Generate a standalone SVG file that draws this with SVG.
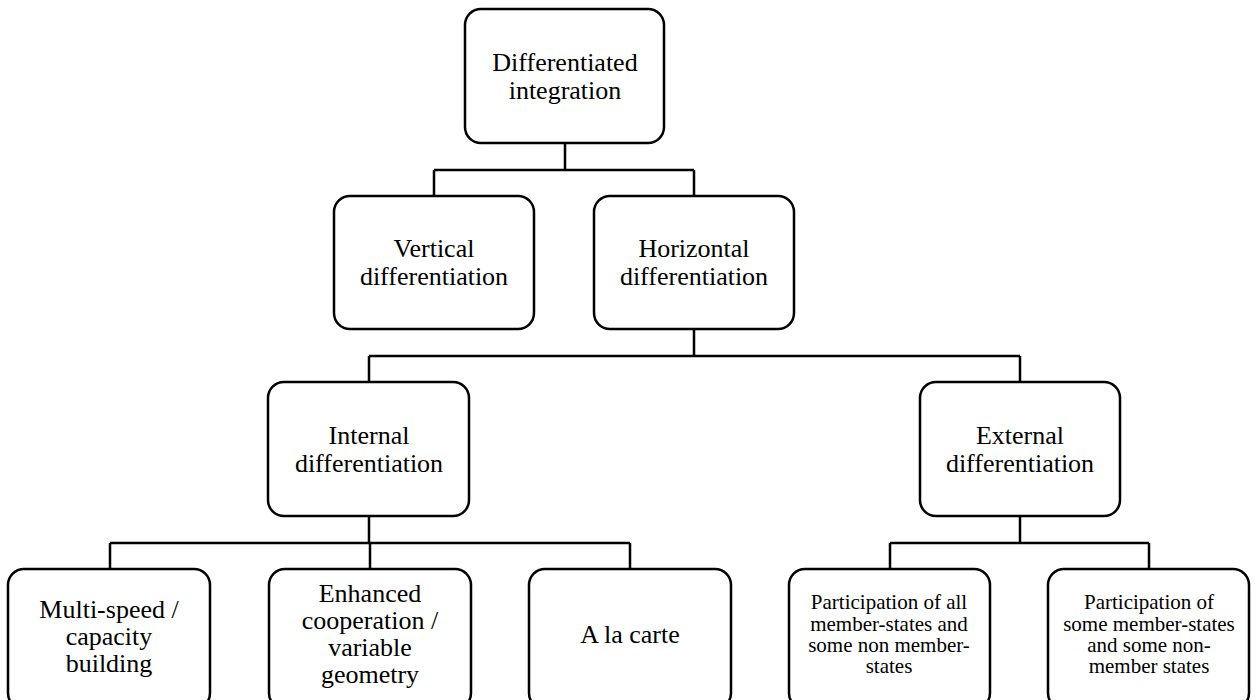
<svg xmlns="http://www.w3.org/2000/svg" width="1256" height="700" viewBox="0 0 1256 700">
<style>
.box{fill:#fff;stroke:#000;stroke-width:2.5}
.t{font-family:'Liberation Serif',Tinos,'Times New Roman',Times,'DejaVu Serif',serif;font-size:26px;fill:#000;text-anchor:middle}
.s{font-family:'Liberation Serif',Tinos,'Times New Roman',Times,'DejaVu Serif',serif;font-size:21px;fill:#000;text-anchor:middle}
.c{fill:none;stroke:#000;stroke-width:2.5}
</style>
<rect width="1256" height="700" fill="#fff"/>
<g id="connectors">
<path class="c" d="M565 143V170M434 170H694M434 170V196M694 170V196"/>
<path class="c" d="M694 329V356M369 356H1020M369 356V382M1020 356V382"/>
<path class="c" d="M369 516V543M110 543H630M110 543V569M370 543V569M630 543V569"/>
<path class="c" d="M1020 516V543M890 543H1149M890 543V569M1149 543V569"/>
</g>
<g id="n-root"><rect class="box" x="465" y="9" width="199" height="134" rx="16"/>
<text class="t" x="565" y="71">Differentiated</text><text class="t" x="565" y="99">integration</text></g>
<g id="n-vertical"><rect class="box" x="334" y="196" width="200" height="133" rx="16"/>
<text class="t" x="434" y="257">Vertical</text><text class="t" x="434" y="285">differentiation</text></g>
<g id="n-horizontal"><rect class="box" x="594" y="196" width="200" height="133" rx="16"/>
<text class="t" x="694" y="257">Horizontal</text><text class="t" x="694" y="285">differentiation</text></g>
<g id="n-internal"><rect class="box" x="268" y="382" width="201" height="134" rx="16"/>
<text class="t" x="369" y="444">Internal</text><text class="t" x="369" y="472">differentiation</text></g>
<g id="n-external"><rect class="box" x="920" y="382" width="200" height="134" rx="16"/>
<text class="t" x="1020" y="444">External</text><text class="t" x="1020" y="472">differentiation</text></g>
<g id="n-multispeed"><rect class="box" x="8" y="569" width="202" height="140" rx="16"/>
<text class="t" x="109" y="618">Multi-speed /</text><text class="t" x="109" y="645">capacity</text><text class="t" x="109" y="672">building</text></g>
<g id="n-enhanced"><rect class="box" x="269" y="569" width="202" height="140" rx="16"/>
<text class="t" x="370" y="602">Enhanced</text><text class="t" x="370" y="629">cooperation /</text><text class="t" x="370" y="656">variable</text><text class="t" x="370" y="683">geometry</text></g>
<g id="n-carte"><rect class="box" x="529" y="569" width="202" height="140" rx="16"/>
<text class="t" x="630" y="643">A la carte</text></g>
<g id="n-all"><rect class="box" x="789" y="569" width="201" height="140" rx="16"/>
<text class="s" x="889" y="609">Participation of all</text><text class="s" x="889" y="631">member-states and</text><text class="s" x="889" y="652">some non member-</text><text class="s" x="889" y="673">states</text></g>
<g id="n-some"><rect class="box" x="1048" y="569" width="201" height="140" rx="16"/>
<text class="s" x="1149" y="609">Participation of</text><text class="s" x="1149" y="631">some member-states</text><text class="s" x="1149" y="652">and some non-</text><text class="s" x="1149" y="673">member states</text></g>
</svg>
